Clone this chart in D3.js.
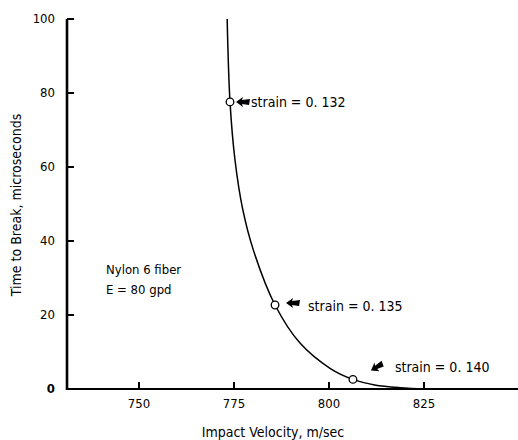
<!DOCTYPE html>
<html><head><meta charset="utf-8">
<script src="https://cdn.jsdelivr.net/npm/d3@7/dist/d3.min.js"></script>
<style>
body{margin:0;background:#fff;}
text{font-family:"DejaVu Sans Condensed","DejaVu Sans",sans-serif;fill:#000;}
</style></head>
<body><svg id="c" width="518" height="440"></svg>
<script>
const curveV = [773.2, 773.95, 775.26, 777.29, 780.08, 785.8, 792.37, 800.26, 806.3, 812, 818.7, 825.8];
const curveT = [100, 77.6, 61.9, 48.6, 37.6, 22.7, 12.4, 5.6, 2.6, 1.1, 0.35, 0];
const pointV = [773.95, 785.8, 806.3];
const pointT = [77.6, 22.7, 2.6];
const pointLabels = ["strain = 0. 132", "strain = 0. 135", "strain = 0. 140"];
const xTicks = [750, 775, 800, 825];
const yTicks = [0, 20, 40, 60, 80, 100];

const svg = d3.select("#c");
const x = d3.scaleLinear().domain([750, 825]).range([139, 424]);
const y = d3.scaleLinear().domain([0, 100]).range([389, 19]);
const x0 = x.invert(67), x1 = x.invert(518);

// axes
svg.append("line").attr("x1", x(x0)).attr("x2", x(x1)).attr("y1", y(0)).attr("y2", y(0))
  .attr("stroke", "#000").attr("stroke-width", 2.2);
svg.append("line").attr("x1", x(x0)).attr("x2", x(x0)).attr("y1", y(0)+1).attr("y2", y(100))
  .attr("stroke", "#000").attr("stroke-width", 2.6);

xTicks.forEach(v => {
  svg.append("line").attr("x1", x(v)).attr("x2", x(v)).attr("y1", y(0)).attr("y2", y(0)-7)
    .attr("stroke", "#000").attr("stroke-width", 2);
  svg.append("text").attr("x", x(v)).attr("y", y(0)+19).attr("text-anchor", "middle")
    .attr("font-size", 13).text(v);
});
yTicks.forEach(t => {
  svg.append("line").attr("x1", x(x0)).attr("x2", x(x0)+7).attr("y1", y(t)).attr("y2", y(t))
    .attr("stroke", "#000").attr("stroke-width", 2);
  svg.append("text").attr("x", x(x0)-12).attr("y", y(t)+4).attr("text-anchor", "end")
    .attr("font-size", 13).attr("font-weight", t === 0 ? "bold" : "normal").text(t);
});

// titles
svg.append("text").attr("x", 273).attr("y", 437).attr("text-anchor", "middle")
  .attr("font-size", 14).text("Impact Velocity,  m/sec");
svg.append("text").attr("transform", "translate(21,205) rotate(-90)").attr("text-anchor", "middle")
  .attr("font-size", 14).text("Time to Break,  microseconds");

// annotation
svg.append("text").attr("x", 106).attr("y", 274).attr("font-size", 13).text("Nylon 6  fiber");
svg.append("text").attr("x", 106).attr("y", 294).attr("font-size", 13).text("E  =  80  gpd");

// curve
const data = curveV.map((v, i) => ({v, t: curveT[i]}));
svg.append("path").datum(data)
  .attr("d", d3.line().x(d => x(d.v)).y(d => y(d.t)).curve(d3.curveCatmullRom.alpha(0.5)))
  .attr("fill", "none").attr("stroke", "#000").attr("stroke-width", 1.5);

// points
pointV.forEach((v, i) => {
  svg.append("circle").attr("cx", x(v)).attr("cy", y(pointT[i])).attr("r", 3.8)
    .attr("fill", "#fff").attr("stroke", "#000").attr("stroke-width", 1.3);
});

// arrows + labels (offsets relative to points)
const arrowOff = [[6, 0], [11, -2], [18, -9]];
const arrowAng = [0, 0, -30];
const labOff = [[21, 5], [33, 6], [42, -7]];
const arrow = "M0,0 L7,-5 L6,-2 L14,-3 L13,3 L6,2 L7,5 Z";
pointV.forEach((v, i) => {
  const px = x(v), py = y(pointT[i]);
  svg.append("path").attr("d", arrow)
    .attr("transform", `translate(${px+arrowOff[i][0]},${py+arrowOff[i][1]}) rotate(${arrowAng[i]})`)
    .attr("fill", "#000");
  svg.append("text").attr("x", px+labOff[i][0]).attr("y", py+labOff[i][1])
    .attr("font-size", 14).text(pointLabels[i]);
});
</script></body></html>
